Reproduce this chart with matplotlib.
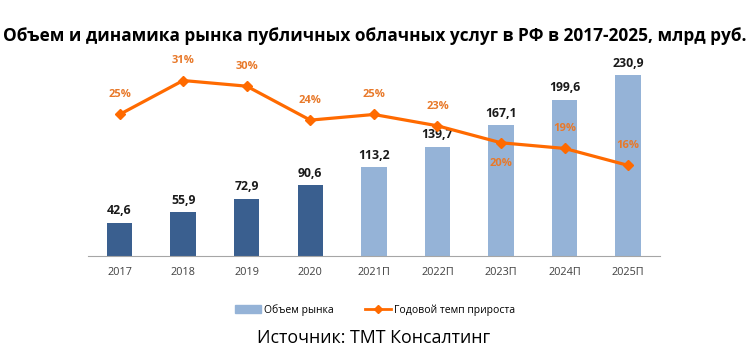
import matplotlib.pyplot as plt
import numpy as np
from matplotlib.patches import Patch
from matplotlib.lines import Line2D

# Данные
years = ["2017", "2018", "2019", "2020", "2021П", "2022П", "2023П", "2024П", "2025П"]
market = [42.6, 55.9, 72.9, 90.6, 113.2, 139.7, 167.1, 199.6, 230.9]
market_labels = ["42,6", "55,9", "72,9", "90,6", "113,2", "139,7", "167,1", "199,6", "230,9"]
growth = [25, 31, 30, 24, 25, 23, 20, 19, 16]
is_forecast = [False, False, False, False, True, True, True, True, True]

plt.rcParams['font.family'] = ['Open Sans', 'DejaVu Sans']

dark = "#3A5F8F"
light = "#95B3D7"
orange = "#FF6A00"
orange_txt = "#E8792A"

fig = plt.figure(figsize=(7.5, 3.58), dpi=100)
ax = fig.add_axes([0.117, 0.285, 0.763, 0.547])
x = np.arange(len(years))
colors = [light if f else dark for f in is_forecast]
ax.bar(x, market, width=0.4, color=colors, zorder=2)
for xi, v, lab in zip(x, market, market_labels):
    ax.text(xi, v + 7, lab, ha="center", va="bottom", fontsize=8.8, fontweight="bold", color="#1a1a1a")

ax.set_xlim(-0.5, 8.5)
ax.set_ylim(0, 250)
ax.set_yticks([])
ax.set_xticks(x)
ax.set_xticklabels(years, fontsize=7.8, color="#404040")
ax.tick_params(axis="x", length=0, pad=8)
for s in ["top", "right", "left"]:
    ax.spines[s].set_visible(False)
ax.spines["bottom"].set_color("#A6A6A6")

# темп прироста на второй оси
ax2 = ax.twinx()
ax2.plot(x, growth, color=orange, linewidth=2.3, marker="D", markersize=5, zorder=3)
ax2.set_ylim(0, 34.6)
ax2.axis("off")
offsets = [2.5, 2.5, 2.5, 2.5, 2.5, 2.5, -4.6, 2.5, 2.5]
for xi, g, off in zip(x, growth, offsets):
    ax2.text(xi, g + off, f"{g}%", ha="center", va="bottom", fontsize=8,
             fontweight="bold", color=orange_txt)

fig.text(0.5, 0.9, "Объем и динамика рынка публичных облачных услуг в РФ в 2017-2025, млрд руб.",
         ha="center", va="center", fontsize=12.4, fontweight="bold")

handles = [Patch(color=light), Line2D([0], [0], color=orange, lw=2, marker="D", markersize=4)]
fig.legend(handles, ["Объем рынка", "Годовой темп прироста"], loc="center",
           bbox_to_anchor=(0.5, 0.135), ncol=2, frameon=False, fontsize=7.5,
           handlelength=2.5, handletextpad=0.3, columnspacing=3)

fig.text(0.498, 0.055, "Источник: ТМТ Консалтинг", ha="center", va="center", fontsize=12.8)

plt.savefig("out.png", dpi=100)
